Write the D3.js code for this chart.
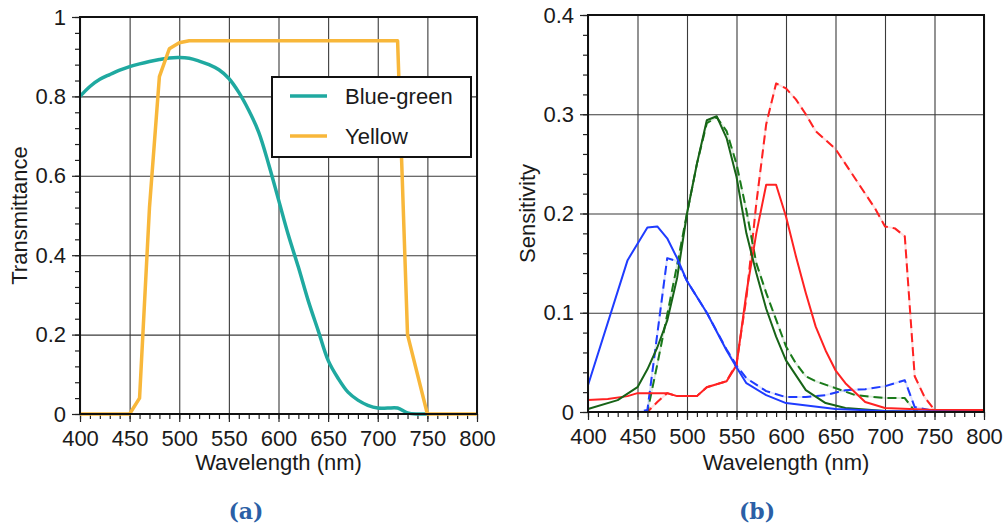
<!DOCTYPE html>
<html>
<head>
<meta charset="utf-8">
<script src="https://cdn.jsdelivr.net/npm/d3@7"></script>
<style>
  body { margin: 0; background: #fff; }
  text { font-family: 'Liberation Sans', Arial, sans-serif; fill: #1a1a1a; }
  .grid line { stroke: #3a3a3a; stroke-width: 1.1; }
  .grid path { display: none; }
  .axis path { display: none; }
  .axis line { stroke: #222; stroke-width: 1.2; }
  .axis text { font-size: 22px; }
  .caption { font-family: 'DejaVu Serif', 'Liberation Serif', serif; font-weight: bold; font-size: 22px; fill: #2b5fa6; }
</style>
</head>
<body>
<svg id="chart" width="1006" height="528"></svg>
<script>
// (a) filter transmittance
var xTicks = [400, 450, 500, 550, 600, 650, 700, 750, 800];
var tTicks = [0, 0.2, 0.4, 0.6, 0.8, 1];
var sTicks = [0, 0.1, 0.2, 0.3, 0.4];
var tTickLabels = ['0', '0.2', '0.4', '0.6', '0.8', '1'];
var sTickLabels = ['0', '0.1', '0.2', '0.3', '0.4'];

var bgWl = [400, 410, 420, 430, 440, 450, 460, 470, 480, 490, 500, 510, 520, 530, 540, 550, 560, 570, 580,
  590, 600, 610, 620, 630, 640, 650, 660, 670, 680, 690, 700, 710, 720, 730, 740, 750];
var blueGreen = [0.80, 0.825, 0.843, 0.855, 0.866, 0.875, 0.882, 0.888, 0.893, 0.897, 0.898, 0.896, 0.889,
  0.88, 0.867, 0.845, 0.81, 0.765, 0.71, 0.63, 0.54, 0.45, 0.37, 0.285, 0.21, 0.135, 0.09, 0.055, 0.035,
  0.022, 0.015, 0.015, 0.015, 0.003, 0.0, 0.0];

var yelWl = [400, 450, 460, 470, 480, 490, 500, 510, 720, 730, 750, 800];
var yellow = [0, 0, 0.04, 0.52, 0.85, 0.92, 0.935, 0.94, 0.94, 0.2, 0, 0];

// (b) sensitivity
var blueSolidWl = [400, 440, 460, 470, 480, 490, 500, 520, 540, 550, 560, 580, 600, 650, 700, 800];
var blueSolid = [0.027, 0.153, 0.186, 0.187, 0.175, 0.155, 0.132, 0.1, 0.062, 0.045, 0.029, 0.017, 0.009, 0.003, 0.001, 0];
var blueDashWl = [400, 450, 460, 480, 490, 500, 520, 540, 550, 560, 580, 600, 620, 640, 660, 680, 700, 720, 730, 750, 800];
var blueDash = [0, 0, 0.002, 0.155, 0.152, 0.132, 0.1, 0.063, 0.047, 0.034, 0.021, 0.015, 0.015, 0.017, 0.022, 0.023, 0.026, 0.032, 0.005, 0.001, 0];

var greenSolidWl = [400, 430, 450, 460, 470, 480, 490, 500, 510, 520, 530, 540, 550, 560, 570, 580, 590, 600, 620, 640, 660, 700, 730];
var greenSolid = [0.003, 0.012, 0.025, 0.043, 0.065, 0.092, 0.135, 0.2, 0.25, 0.294, 0.298, 0.276, 0.237, 0.18, 0.14, 0.104, 0.076, 0.052, 0.022, 0.009, 0.004, 0.001, 0];
var greenDashWl = [400, 460, 470, 480, 490, 500, 510, 520, 530, 540, 550, 560, 570, 580, 590, 600, 610, 620, 630, 650, 670, 700, 720, 730, 740];
var greenDash = [0, 0, 0.048, 0.098, 0.148, 0.2, 0.25, 0.291, 0.297, 0.283, 0.25, 0.203, 0.15, 0.12, 0.093, 0.066, 0.049, 0.036, 0.031, 0.024, 0.017, 0.014, 0.014, 0.001, 0];

var redSolidWl = [400, 420, 440, 450, 480, 490, 510, 520, 540, 550, 560, 570, 580, 590, 600, 610, 620, 630, 640, 650, 660, 680, 700, 750, 800];
var redSolid = [0.012, 0.013, 0.016, 0.019, 0.019, 0.016, 0.016, 0.025, 0.031, 0.047, 0.12, 0.18, 0.229, 0.229, 0.197, 0.157, 0.12, 0.086, 0.062, 0.042, 0.029, 0.01, 0.004, 0.002, 0.002];
var redDashWl = [400, 460, 470, 480, 490, 510, 520, 540, 550, 560, 570, 580, 590, 600, 610, 620, 630, 650, 670, 690, 700, 710, 720, 730, 740, 750, 800];
var redDash = [0, 0, 0.01, 0.019, 0.016, 0.016, 0.025, 0.031, 0.049, 0.115, 0.21, 0.29, 0.331, 0.326, 0.315, 0.30, 0.283, 0.265, 0.235, 0.205, 0.187, 0.185, 0.177, 0.036, 0.015, 0.002, 0.002];

var svg = d3.select('#chart');

function zip(xs, ys) {
  return xs.map(function(d, i) { return [d, ys[i]]; });
}

function drawPanel(p) {
  var x = d3.scaleLinear().domain([400, 800]).range([p.left, p.right]);
  var y = d3.scaleLinear().domain([0, p.ymax]).range([p.bottom, p.top]);
  var h = p.bottom - p.top;
  var w = p.right - p.left;
  var g = svg.append('g');

  // grid
  g.append('g').attr('class', 'grid')
    .attr('transform', 'translate(0,' + p.bottom + ')')
    .call(d3.axisBottom(x).tickValues(xTicks).tickSize(-h).tickFormat(''));
  g.append('g').attr('class', 'grid')
    .attr('transform', 'translate(' + p.left + ',0)')
    .call(d3.axisLeft(y).tickValues(p.yTicks).tickSize(-w).tickFormat(''));

  // minor ticks
  g.append('g').attr('class', 'axis')
    .attr('transform', 'translate(0,' + p.bottom + ')')
    .call(d3.axisBottom(x).tickValues(d3.range(400, 801, 10)).tickSize(5).tickFormat(''));
  g.append('g').attr('class', 'axis')
    .attr('transform', 'translate(' + p.left + ',0)')
    .call(d3.axisLeft(y).tickValues(d3.range(0, p.ymax + 1e-9, p.minor)).tickSize(5).tickFormat(''));

  // major ticks + labels
  g.append('g').attr('class', 'axis')
    .attr('transform', 'translate(0,' + p.bottom + ')')
    .call(d3.axisBottom(x).tickValues(xTicks).tickSize(8).tickPadding(8).tickFormat(d3.format('d')));
  g.append('g').attr('class', 'axis')
    .attr('transform', 'translate(' + p.left + ',0)')
    .call(d3.axisLeft(y).tickValues(p.yTicks).tickSize(8).tickPadding(6)
      .tickFormat(function(d, i) { return p.yLabels[i]; }));

  // series
  var line = d3.line()
    .x(function(d) { return x(d[0]); })
    .y(function(d) { return y(d[1]); });

  p.series.forEach(function(s) {
    var ln = line.curve(s.smooth ? d3.curveCatmullRom : d3.curveLinear);
    if (s.dash) {
      g.append('path')
        .attr('d', ln(zip(s.wl, s.v)))
        .attr('fill', 'none')
        .attr('stroke', s.color)
        .attr('stroke-opacity', 0.15)
        .attr('stroke-width', s.width);
    }
    g.append('path')
      .attr('d', ln(zip(s.wl, s.v)))
      .attr('fill', 'none')
      .attr('stroke', s.color)
      .attr('stroke-width', s.width)
      .attr('stroke-linejoin', 'round')
      .attr('stroke-dasharray', s.dash ? '9,5' : null);
  });

  // frame
  g.append('rect')
    .attr('x', p.left).attr('y', p.top)
    .attr('width', w).attr('height', h)
    .attr('fill', 'none')
    .attr('stroke', '#111')
    .attr('stroke-width', 2);

  // axis titles
  g.append('text')
    .attr('x', (p.left + p.right) / 2)
    .attr('y', 470)
    .attr('text-anchor', 'middle')
    .style('font-size', '22px')
    .text('Wavelength (nm)');
  g.append('text')
    .attr('transform', 'translate(' + p.ytx + ',' + (p.top + p.bottom) / 2 + ') rotate(-90)')
    .attr('text-anchor', 'middle')
    .style('font-size', '22px')
    .text(p.ytitle);

  g.append('text')
    .attr('class', 'caption')
    .attr('x', p.capx)
    .attr('y', 519)
    .attr('text-anchor', 'middle')
    .text(p.caption);

  return { x: x, y: y };
}

drawPanel({
  left: 80, right: 477, top: 17, bottom: 414, ymax: 1, minor: 0.04,
  yTicks: tTicks, yLabels: tTickLabels, ytitle: 'Transmittance', ytx: 27,
  caption: '(a)', capx: 246,
  series: [
    { wl: bgWl, v: blueGreen, color: '#1fa9a0', width: 3.5, smooth: true },
    { wl: yelWl, v: yellow, color: '#f8b73a', width: 3.5 }
  ]
});

drawPanel({
  left: 588, right: 984, top: 15, bottom: 412, ymax: 0.4, minor: 0.02,
  yTicks: sTicks, yLabels: sTickLabels, ytitle: 'Sensitivity', ytx: 535,
  caption: '(b)', capx: 757,
  series: [
    { wl: redDashWl, v: redDash, color: '#ff2222', width: 2, dash: true },
    { wl: greenDashWl, v: greenDash, color: '#1a7a1a', width: 2, dash: true },
    { wl: blueDashWl, v: blueDash, color: '#1f3cff', width: 2, dash: true },
    { wl: redSolidWl, v: redSolid, color: '#ff2222', width: 2 },
    { wl: greenSolidWl, v: greenSolid, color: '#176317', width: 2 },
    { wl: blueSolidWl, v: blueSolid, color: '#1f3cff', width: 2 }
  ]
});

// legend for (a)
var legend = svg.append('g');
legend.append('rect')
  .attr('x', 272).attr('y', 77).attr('width', 199).attr('height', 80)
  .attr('fill', '#fff').attr('stroke', '#111').attr('stroke-width', 2);
var legendItems = [
  { name: 'Blue-green', color: '#1fa9a0', y: 96 },
  { name: 'Yellow', color: '#f8b73a', y: 136 }
];
legendItems.forEach(function(d) {
  legend.append('line')
    .attr('x1', 290).attr('x2', 327).attr('y1', d.y).attr('y2', d.y)
    .attr('stroke', d.color).attr('stroke-width', 3.5);
  legend.append('text')
    .attr('x', 345).attr('y', d.y).attr('dy', '0.36em')
    .style('font-size', '22px')
    .text(d.name);
});
</script>
</body>
</html>
